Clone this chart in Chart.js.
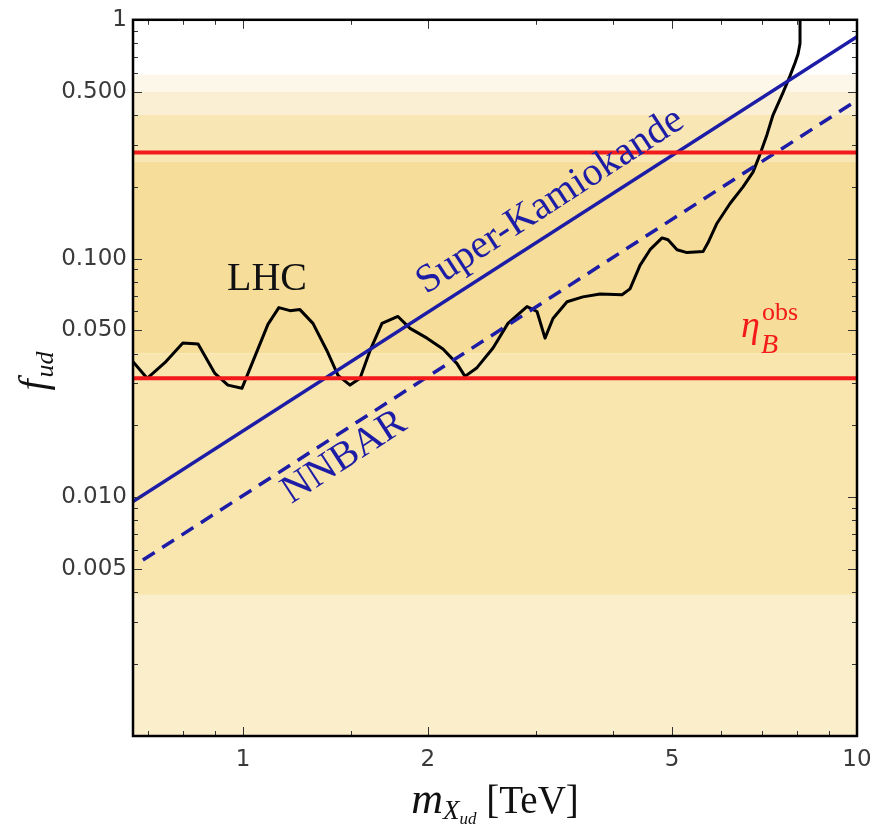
<!DOCTYPE html>
<html>
<head>
<meta charset="utf-8">
<script src="https://cdn.jsdelivr.net/npm/chart.js@4.4.1/dist/chart.umd.min.js"></script>
<style>
body { margin: 0; background: #fff; }
canvas { display: block; }
</style>
</head>
<body>
<canvas id="chart" width="884" height="827"></canvas>
<script>
// ==========================
// DATA
// ==========================

// LHC dijet bound (black curve)
const lhcMass = [0.662, 0.698, 0.746, 0.798, 0.845, 0.900, 0.945, 0.996, 1.098, 1.144,
    1.193, 1.238, 1.300, 1.370, 1.428, 1.494, 1.551, 1.610, 1.684, 1.788,
    1.871, 1.994, 2.117, 2.231, 2.299, 2.405, 2.554, 2.701, 2.901, 3.012,
    3.104, 3.198, 3.371, 3.578, 3.815, 4.143, 4.269, 4.432, 4.602, 4.814,
    4.923, 5.092, 5.286, 5.614, 5.718, 5.916, 6.212, 6.522, 6.771, 6.951,
    7.135, 7.298, 7.577, 7.779, 7.925, 8.015, 8.076, 8.076];
const lhcCoupling = [0.0370, 0.0315, 0.0366, 0.0443, 0.0439, 0.0330, 0.0295, 0.0286, 0.0530, 0.0623,
    0.0605, 0.0611, 0.0535, 0.0411, 0.0324, 0.0295, 0.0315, 0.0411, 0.0535, 0.0572,
    0.0510, 0.0464, 0.0418, 0.0363, 0.0321, 0.0349, 0.0422, 0.0535, 0.0629, 0.0600,
    0.0464, 0.0561, 0.0659, 0.0691, 0.0711, 0.0705, 0.0746, 0.0936, 0.1089, 0.1220,
    0.1198, 0.1089, 0.1059, 0.1069, 0.1164, 0.1406, 0.1700, 0.1997, 0.2302, 0.2731,
    0.3302, 0.3990, 0.4958, 0.5823, 0.6590, 0.7178, 0.7966, 1.0];

// Super-Kamiokande (solid blue) and NNBAR (dashed blue)
const superKMass = [0.662, 10];
const superKCoupling = [0.0096, 0.85];
const nnbarMass = [0.687, 10];
const nnbarCoupling = [0.00546, 0.46];

// eta_B^obs band edges (red lines)
const etaBounds = [0.0315, 0.278];

// shaded bands, edges from top to bottom
const bandEdges = [0.59, 0.5, 0.4, 0.255, 0.04, 0.0039, 0.001];
const bandColors = ["#fdf7e9", "#fbefd3", "#f9e6b5", "#f6dd99", "#f9e5ae", "#fbeecb"];

// axes
const xRange = [0.662, 10];
const yRange = [0.001, 1];
const xTickValues = [1, 2, 5, 10];
const xTickLabels = ["1", "2", "5", "10"];
const xMinorTicks = [0.7, 0.8, 0.9, 1.5, 3, 4, 6, 7, 8, 9];
const yTickValues = [0.005, 0.01, 0.05, 0.1, 0.5, 1];
const yTickLabels = ["0.005", "0.010", "0.050", "0.100", "0.500", "1"];
const yMinorTicks = [0.002, 0.003, 0.004, 0.006, 0.007, 0.008, 0.009,
    0.02, 0.03, 0.04, 0.06, 0.07, 0.08, 0.09,
    0.2, 0.3, 0.4, 0.6, 0.7, 0.8, 0.9];

const toPoints = (xs, ys) => xs.map((x, i) => ({ x: x, y: ys[i] }));

const BLUE = "#1c1ca6";
const RED = "#f21a1a";

// ==========================
// BANDS / FRAME / TEXT PLUGIN
// ==========================

const decorations = {
    id: "decorations",

    beforeDatasetsDraw(chart) {
        const ctx = chart.ctx;
        const a = chart.chartArea;
        const y = chart.scales.y;
        ctx.save();
        for (let i = 0; i < bandColors.length; i++) {
            const top = y.getPixelForValue(bandEdges[i]);
            const bottom = y.getPixelForValue(bandEdges[i + 1]);
            ctx.fillStyle = bandColors[i];
            ctx.fillRect(a.left, top, a.right - a.left, bottom - top);
        }
        ctx.restore();
    },

    afterDatasetsDraw(chart) {
        const ctx = chart.ctx;
        const a = chart.chartArea;
        const x = chart.scales.x;
        const y = chart.scales.y;

        ctx.save();

        // tick marks inside the frame, all four sides
        ctx.strokeStyle = "#333";
        ctx.lineWidth = 1;
        ctx.beginPath();
        const xTick = (v, len) => {
            const px = Math.round(x.getPixelForValue(v)) + 0.5;
            ctx.moveTo(px, a.bottom); ctx.lineTo(px, a.bottom - len);
            ctx.moveTo(px, a.top); ctx.lineTo(px, a.top + len);
        };
        const yTick = (v, len) => {
            const py = Math.round(y.getPixelForValue(v)) + 0.5;
            ctx.moveTo(a.left, py); ctx.lineTo(a.left + len, py);
            ctx.moveTo(a.right, py); ctx.lineTo(a.right - len, py);
        };
        xTickValues.forEach(v => xTick(v, 9));
        xMinorTicks.forEach(v => xTick(v, 5));
        yTickValues.forEach(v => yTick(v, 9));
        yMinorTicks.forEach(v => yTick(v, 5));
        ctx.stroke();

        // frame
        ctx.strokeStyle = "#000";
        ctx.lineWidth = 2.5;
        ctx.strokeRect(a.left, a.top, a.right - a.left, a.bottom - a.top);

        // curve labels
        ctx.textBaseline = "alphabetic";
        ctx.fillStyle = "#111";
        ctx.font = "40px 'Liberation Serif'";
        ctx.textAlign = "center";
        ctx.fillText("LHC", 267, 290);

        ctx.fillStyle = BLUE;
        ctx.font = "40px 'Liberation Serif'";
        ctx.save();
        ctx.translate(556, 210);
        ctx.rotate(-33 * Math.PI / 180);
        ctx.fillText("Super-Kamiokande", 0, 0);
        ctx.restore();

        ctx.save();
        ctx.translate(350, 466);
        ctx.rotate(-33 * Math.PI / 180);
        ctx.fillText("NNBAR", 0, 0);
        ctx.restore();

        // eta_B^obs
        ctx.textAlign = "left";
        ctx.fillStyle = RED;
        ctx.font = "italic 38px 'Liberation Serif'";
        ctx.fillText("\u03B7", 741, 337);
        ctx.font = "italic 28px 'Liberation Serif'";
        ctx.fillText("B", 761, 353);
        ctx.font = "26px 'Liberation Serif'";
        ctx.fillText("obs", 762, 320);

        // x axis title: m_{X_ud} [TeV]
        ctx.fillStyle = "#111";
        const parts = [
            { t: "m", f: "italic 44px 'Liberation Serif'", dy: 0 },
            { t: "X", f: "italic 27px 'Liberation Serif'", dy: 6 },
            { t: "ud", f: "italic 17px 'Liberation Serif'", dy: 11 },
            { t: " [TeV]", f: "39px 'Liberation Serif'", dy: 0 }
        ];
        let total = 0;
        parts.forEach(p => { ctx.font = p.f; p.w = ctx.measureText(p.t).width; total += p.w; });
        let cx = (a.left + a.right) / 2 - total / 2;
        parts.forEach(p => {
            ctx.font = p.f;
            ctx.fillText(p.t, cx, 813 + p.dy);
            cx += p.w;
        });

        // y axis title: f_ud
        ctx.save();
        ctx.translate(46, 372);
        ctx.rotate(-Math.PI / 2);
        ctx.font = "italic 40px 'Liberation Serif'";
        const fw = ctx.measureText("f").width;
        ctx.font = "italic 26px 'Liberation Serif'";
        const uw = ctx.measureText("ud").width;
        let sx = -(fw + uw) / 2;
        ctx.font = "italic 40px 'Liberation Serif'";
        ctx.fillText("f", sx, 0);
        ctx.font = "italic 26px 'Liberation Serif'";
        ctx.fillText("ud", sx + fw + 2, 7);
        ctx.restore();

        ctx.restore();
    }
};

// ==========================
// CHART
// ==========================

new Chart(document.getElementById("chart"), {

    type: "line",

    data: {
        datasets: [
            {
                label: "eta lower",
                data: toPoints(xRange, [etaBounds[0], etaBounds[0]]),
                borderColor: RED,
                borderWidth: 4
            },
            {
                label: "eta upper",
                data: toPoints(xRange, [etaBounds[1], etaBounds[1]]),
                borderColor: RED,
                borderWidth: 4
            },
            {
                label: "Super-Kamiokande",
                data: toPoints(superKMass, superKCoupling),
                borderColor: BLUE,
                borderWidth: 3.5
            },
            {
                label: "NNBAR",
                data: toPoints(nnbarMass, nnbarCoupling),
                borderColor: BLUE,
                borderWidth: 3.5,
                borderDash: [14, 9]
            },
            {
                label: "LHC",
                data: toPoints(lhcMass, lhcCoupling),
                borderColor: "#000",
                borderWidth: 3,
                borderJoinStyle: "round",
                tension: 0
            }
        ]
    },

    options: {
        responsive: false,
        animation: false,
        layout: { padding: { top: 12, right: 27, left: 0, bottom: 0 } },
        elements: { point: { radius: 0 } },
        plugins: {
            legend: { display: false },
            tooltip: { enabled: false }
        },
        scales: {
            x: {
                type: "logarithmic",
                min: xRange[0],
                max: xRange[1],
                grid: { display: false, drawTicks: false },
                border: { display: false },
                afterBuildTicks: s => { s.ticks = xTickValues.map(v => ({ value: v })); },
                afterFit: s => { s.height = 91; },
                ticks: {
                    autoSkip: false,
                    maxRotation: 0,
                    padding: 10,
                    color: "#3a3a3a",
                    font: { family: "'DejaVu Sans'", size: 23 },
                    callback: (v, i) => xTickLabels[i]
                }
            },
            y: {
                type: "logarithmic",
                min: yRange[0],
                max: yRange[1],
                grid: { display: false, drawTicks: false },
                border: { display: false },
                afterBuildTicks: s => { s.ticks = yTickValues.map(v => ({ value: v })); },
                afterFit: s => { s.width = 133; },
                ticks: {
                    autoSkip: false,
                    padding: 6,
                    color: "#3a3a3a",
                    font: { family: "'DejaVu Sans'", size: 23 },
                    callback: (v, i) => yTickLabels[i]
                }
            }
        }
    },

    plugins: [decorations]
});
</script>
</body>
</html>
